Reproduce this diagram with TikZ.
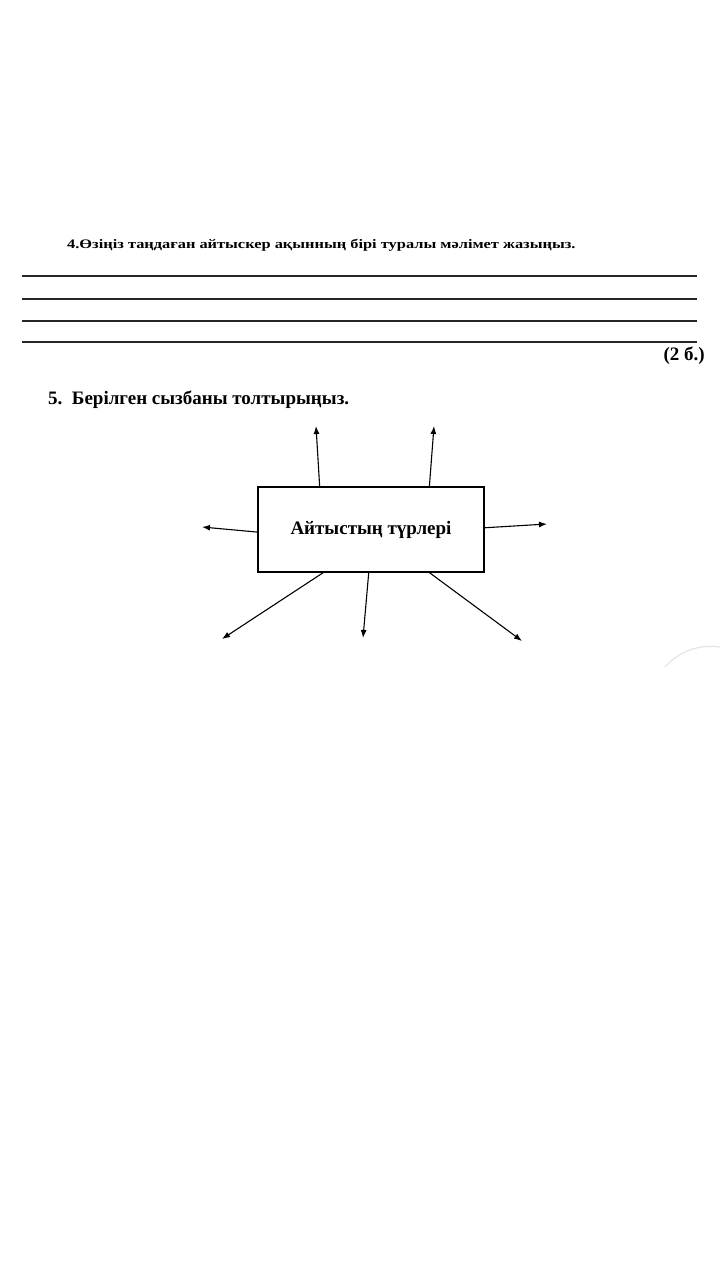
\documentclass[tikz,border=0pt]{standalone}
\usepackage{fontspec}
\setmainfont{Liberation Serif}
\usetikzlibrary{arrows.meta, calc, positioning}

\begin{document}
\begin{tikzpicture}[
  x=1pt, y=-1pt,
  task/.style={anchor=west, inner sep=0pt, font=\fontsize{13}{16}\selectfont\bfseries},
  answerline/.style={line width=1.4pt, black!85},
  typebox/.style={rectangle, draw, line width=1.2pt, minimum width=226pt, minimum height=85pt,
                  font=\fontsize{19}{22}\selectfont\bfseries, inner sep=0pt},
  arrow/.style={-{Latex[length=8pt, width=6pt]}, line width=1.1pt},
]
\useasboundingbox[fill=white] (0,0) rectangle (720,1280);

% Question 4
\node[task] (q4) at (67,245) {\scalebox{1.26}[1]{4.Өзіңіз таңдаған айтыскер ақынның бірі туралы мәлімет жазыңыз.}};
\foreach \y in {276, 299, 321, 342} {
  \draw[answerline] (22,\y) -- (697,\y);
}
\node[task, anchor=east, font=\fontsize{19}{22}\selectfont\bfseries] (points) at (705,356) {(2 б.)};

% Question 5
\node[task, font=\fontsize{19}{22}\selectfont\bfseries] (q5) at (48,400) {5.\enspace Берілген сызбаны толтырыңыз.};

% Scheme
\node[typebox] (types) at (371,529.5) {Айтыстың түрлері};

\coordinate (up1) at (316,426);
\coordinate (up2) at (434,426);
\coordinate (left) at (202,527);
\coordinate (right) at (547,524);
\coordinate (down1) at (222,639);
\coordinate (down2) at (363,638);
\coordinate (down3) at (522,641);

\draw[arrow] ($(types.north west)!0.274!(types.north east)$) -- (up1);
\draw[arrow] ($(types.north west)!0.757!(types.north east)$) -- (up2);
\draw[arrow] ($(types.north west)!0.53!(types.south west)$) -- (left);
\draw[arrow] ($(types.north east)!0.48!(types.south east)$) -- (right);
\draw[arrow] ($(types.south west)!0.29!(types.south east)$) -- (down1);
\draw[arrow] ($(types.south west)!0.49!(types.south east)$) -- (down2);
\draw[arrow] ($(types.south west)!0.757!(types.south east)$) -- (down3);

% faint shadow at the edge
\draw[black!10, line width=1.2pt] (665,667) .. controls (678,652) and (698,644) .. (720,647);

\end{tikzpicture}
\end{document}
